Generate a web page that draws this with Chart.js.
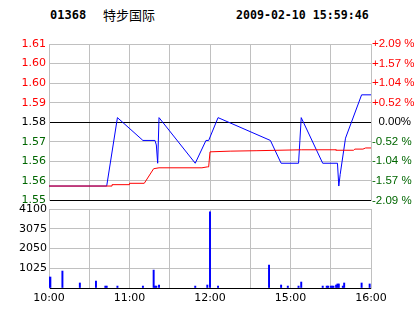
<!DOCTYPE html>
<html>
<head>
<meta charset="utf-8">
<script src="https://cdn.jsdelivr.net/npm/chart.js@4.4.0/dist/chart.umd.min.js"></script>
<style>
    html, body { margin: 0; padding: 0; background: #fff; }
    #wrap { position: relative; width: 414px; height: 314px; overflow: hidden; }
    .title { position: absolute; top: 8px; white-space: nowrap; color: #000; }
    .mono { font: bold 12px "DejaVu Sans Mono", monospace; }
    .name { font: 13px "Noto Sans CJK SC", sans-serif; top: 5px; }
    canvas { position: absolute; left: 0; }
</style>
</head>
<body>
<div id="wrap">
    <div class="title mono" style="left:50px">01368</div>
    <div class="title name" style="left:103px">特步国际</div>
    <div class="title mono" style="left:236px;font-size:11.6px">2009-02-10 15:59:46</div>
    <canvas id="priceChart" width="414" height="180" style="top:30px"></canvas>
    <canvas id="volumeChart" width="414" height="114" style="top:200px"></canvas>
</div>
<script>
// price axis (bottom -> top)
const priceMin = 1.5437;
const priceMax = 1.6123;
const priceLabels = ["1.55", "1.56", "1.56", "1.57", "1.58", "1.59", "1.60", "1.60", "1.61"];
const percentLabels = ["-2.09 %", "-1.57 %", "-1.04 %", "-0.52 %", "  0.00%", "+0.52 %", "+1.04 %", "+1.57 %", "+2.09 %"];

// trading minutes since 10:00 (lunch break removed)
const timeTickMinutes = [0, 60, 120, 180, 240];
const timeTickLabels = ["10:00", "11:00", "12:00", "15:00", "16:00"];

const priceMinutes = [0, 43, 51, 70, 79, 80, 81, 82, 109, 117, 119, 126, 165, 173, 186, 187, 188, 204, 215, 216, 217, 221, 233, 240];
const priceValues = [1.55, 1.55, 1.58, 1.57, 1.57, 1.568, 1.56, 1.58, 1.56, 1.57, 1.57, 1.58, 1.57, 1.56, 1.56, 1.57, 1.58, 1.56, 1.56, 1.55, 1.555, 1.571, 1.59, 1.59];

const avgMinutes = [0, 47, 47, 60, 60, 71, 78, 82, 114, 118, 119, 120, 135, 155, 188, 214, 214, 227, 228, 234, 236, 240];
const avgValues = [1.55, 1.55, 1.5506, 1.5506, 1.5512, 1.5512, 1.5576, 1.558, 1.558, 1.5584, 1.5584, 1.565, 1.5653, 1.5655, 1.5659, 1.5659, 1.5657, 1.5657, 1.5662, 1.5662, 1.5667, 1.5667];

const volumeTicks = [0, 1025, 2050, 3075, 4100];
const volumeTickLabels = ["", "1025", "2050", "3075", "4100"];
const volumeMinutes = [0, 1, 10, 23, 35, 42, 43, 51, 70, 78, 79, 80, 82, 109, 118, 120, 126, 164, 173, 178, 186, 188, 204, 207, 208, 210, 211, 212, 214, 215, 216, 219, 220, 233, 239];
const volumeValues = [570, 570, 880, 260, 360, 100, 100, 100, 100, 930, 100, 100, 155, 100, 155, 3950, 100, 1190, 155, 100, 100, 310, 100, 100, 100, 100, 100, 100, 155, 210, 210, 100, 260, 260, 210];

const GRID = "#c0c0c0";
const RED = "#ff0000";
const GREEN = "#006600";
const LABEL_FONT = { family: "DejaVu Sans", size: 11 };

function toPoints(xs, ys) {
    return xs.map((x, i) => ({ x, y: ys[i] }));
}

function evenTicks(min, max, count) {
    const step = (max - min) / (count - 1);
    return priceLabels.slice(0, count).map((_, i) => ({ value: min + step * i }));
}

function labelColor(index) {
    if (index < 4) return GREEN;
    if (index === 4) return "#000";
    return RED;
}

function timeGridTicks(scale) {
    const ticks = [];
    for (let m = 0; m <= 240; m += 30) ticks.push({ value: m });
    scale.ticks = ticks;
}

new Chart(document.getElementById("priceChart"), {
    type: "line",
    data: {
        datasets: [
            {
                data: toPoints(avgMinutes, avgValues),
                borderColor: RED,
                borderWidth: 1,
                pointRadius: 0,
                tension: 0,
                order: 0,
            },
            {
                data: toPoints(priceMinutes, priceValues),
                borderColor: "#0000ff",
                borderWidth: 1,
                pointRadius: 0,
                tension: 0,
                order: 1,
            },
        ],
    },
    options: {
        responsive: false,
        animation: false,
        devicePixelRatio: 1,
        layout: { padding: { top: 14, left: 0, right: 0, bottom: 0 } },
        plugins: { legend: { display: false }, tooltip: { enabled: false } },
        scales: {
            x: {
                type: "linear",
                min: 0,
                max: 240,
                afterBuildTicks: timeGridTicks,
                ticks: { display: false },
                grid: { color: GRID, drawTicks: false },
                border: { color: "#000" },
                afterFit: (scale) => { scale.height = 7; },
            },
            y: {
                position: "left",
                min: priceMin,
                max: priceMax,
                afterBuildTicks: (scale) => { scale.ticks = evenTicks(priceMin, priceMax, 9); },
                ticks: {
                    callback: (value, index) => priceLabels[index],
                    color: (ctx) => labelColor(ctx.index),
                    font: LABEL_FONT,
                    padding: 3,
                },
                grid: {
                    color: (ctx) => (ctx.index === 0 || ctx.index === 4 ? "#000" : GRID),
                    drawTicks: false,
                },
                border: { color: GRID },
                afterFit: (scale) => { scale.width = 49; },
            },
            pct: {
                position: "right",
                min: priceMin,
                max: priceMax,
                afterBuildTicks: (scale) => { scale.ticks = evenTicks(priceMin, priceMax, 9); },
                ticks: {
                    callback: (value, index) => percentLabels[index],
                    color: (ctx) => labelColor(ctx.index),
                    font: { family: "Liberation Sans", size: 11.5 },
                    padding: 1,
                },
                grid: { drawOnChartArea: false, drawTicks: false },
                border: { color: GRID },
                afterFit: (scale) => { scale.width = 43; },
            },
        },
    },
});

new Chart(document.getElementById("volumeChart"), {
    type: "bar",
    data: {
        datasets: [
            {
                data: toPoints(volumeMinutes, volumeValues),
                backgroundColor: "#0000ff",
                barThickness: 1.3,
            },
        ],
    },
    options: {
        responsive: false,
        animation: false,
        devicePixelRatio: 1,
        layout: { padding: { top: 9, left: 0, right: 0, bottom: 0 } },
        plugins: { legend: { display: false }, tooltip: { enabled: false } },
        scales: {
            x: {
                type: "linear",
                min: 0,
                max: 240,
                offset: false,
                afterBuildTicks: timeGridTicks,
                ticks: {
                    autoSkip: false,
                    maxRotation: 0,
                    padding: 4,
                    color: "#000",
                    font: LABEL_FONT,
                    callback: (value) => {
                        const i = timeTickMinutes.indexOf(value);
                        return i >= 0 ? timeTickLabels[i] : "";
                    },
                },
                grid: { color: GRID, drawTicks: false, offset: false },
                border: { color: "#000" },
                afterFit: (scale) => { scale.height = 26; },
            },
            y: {
                position: "left",
                min: 0,
                max: 4100,
                afterBuildTicks: (scale) => { scale.ticks = volumeTicks.map((v) => ({ value: v })); },
                ticks: {
                    callback: (value, index) => volumeTickLabels[index],
                    color: "#000",
                    font: LABEL_FONT,
                    padding: 2,
                },
                grid: { color: GRID, drawTicks: false },
                border: { color: GRID },
                afterFit: (scale) => { scale.width = 49; },
            },
            side: {
                position: "right",
                min: 0,
                max: 4100,
                ticks: { display: false },
                grid: { drawOnChartArea: false, drawTicks: false },
                border: { color: GRID },
                afterFit: (scale) => { scale.width = 43; },
            },
        },
    },
});
</script>
</body>
</html>
